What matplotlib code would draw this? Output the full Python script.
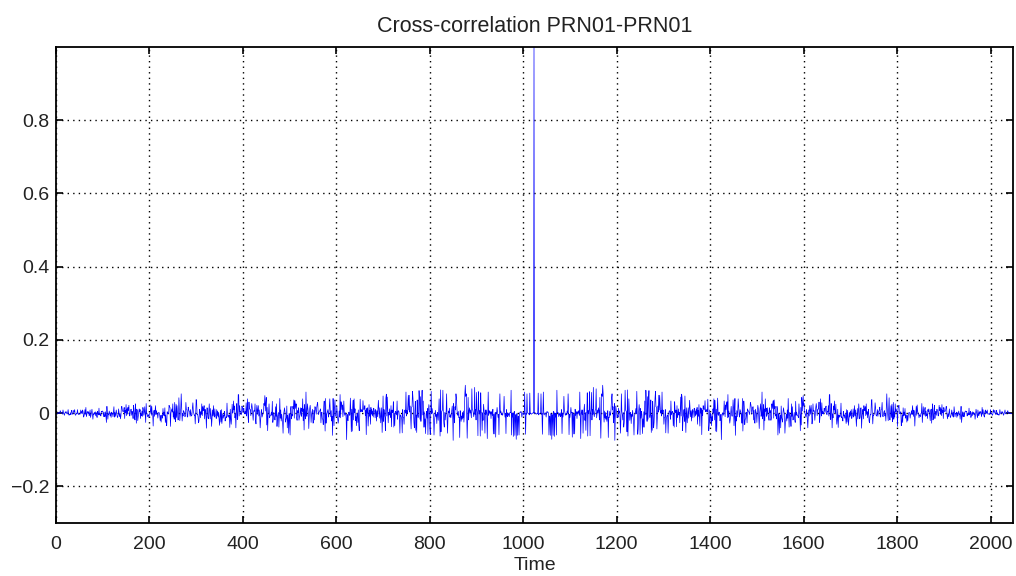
import numpy as np
from matplotlib import pyplot as plt

# GPS C/A code settings for PRN01 (G2 phase taps 2 and 6)
prn_id = 1
g2_taps = [2, 6]
code_len = 1023

title = "Cross-correlation PRN01-PRN01"
x_label = "Time"
x_ticks = [0, 200, 400, 600, 800, 1000, 1200, 1400, 1600, 1800, 2000]
y_ticks = [-0.2, 0, 0.2, 0.4, 0.6, 0.8]


def ca_code(taps):
    g1 = [1] * 10
    g2 = [1] * 10
    chips = []
    for _ in range(code_len):
        out = g1[9] ^ g2[taps[0] - 1] ^ g2[taps[1] - 1]
        chips.append(out)
        fb1 = g1[2] ^ g1[9]
        fb2 = g2[1] ^ g2[2] ^ g2[5] ^ g2[7] ^ g2[8] ^ g2[9]
        g1 = [fb1] + g1[:9]
        g2 = [fb2] + g2[:9]
    return 1 - 2 * np.array(chips)


code = ca_code(g2_taps)
xc = np.correlate(code, code, mode="full") / code_len
t = np.arange(1, len(xc) + 1)

plt.rcParams['font.family'] = ['Liberation Sans', 'DejaVu Sans']

fig = plt.figure(figsize=(10.16, 5.76), dpi=100)
ax = fig.add_axes([0.0551, 0.092, 0.9419, 0.8264])
ax.plot(t, xc, color=(0, 0, 1), linewidth=0.5)

ax.set_xlim(0, 2048)
ax.set_ylim(-0.3, 1.0)
ax.set_xticks(x_ticks)
ax.set_yticks(y_ticks)
ax.set_yticklabels(["\u22120.2", "0", "0.2", "0.4", "0.6", "0.8"])
ax.tick_params(direction="in", top=True, right=True, labelsize=14, length=5, width=1.2,
               labelcolor="#222222")
ax.tick_params(axis="x", pad=9)
ax.tick_params(axis="y", pad=5)
ax.grid(True, color="black", linestyle=(0, (1, 3)), linewidth=1.0)
for s in ax.spines.values():
    s.set_linewidth(1.3)

ax.set_title(title, fontsize=15.5, pad=11, color="#222222")
ax.set_xlabel(x_label, fontsize=14, labelpad=3, color="#222222")

fig.savefig("out.png", dpi=100)
